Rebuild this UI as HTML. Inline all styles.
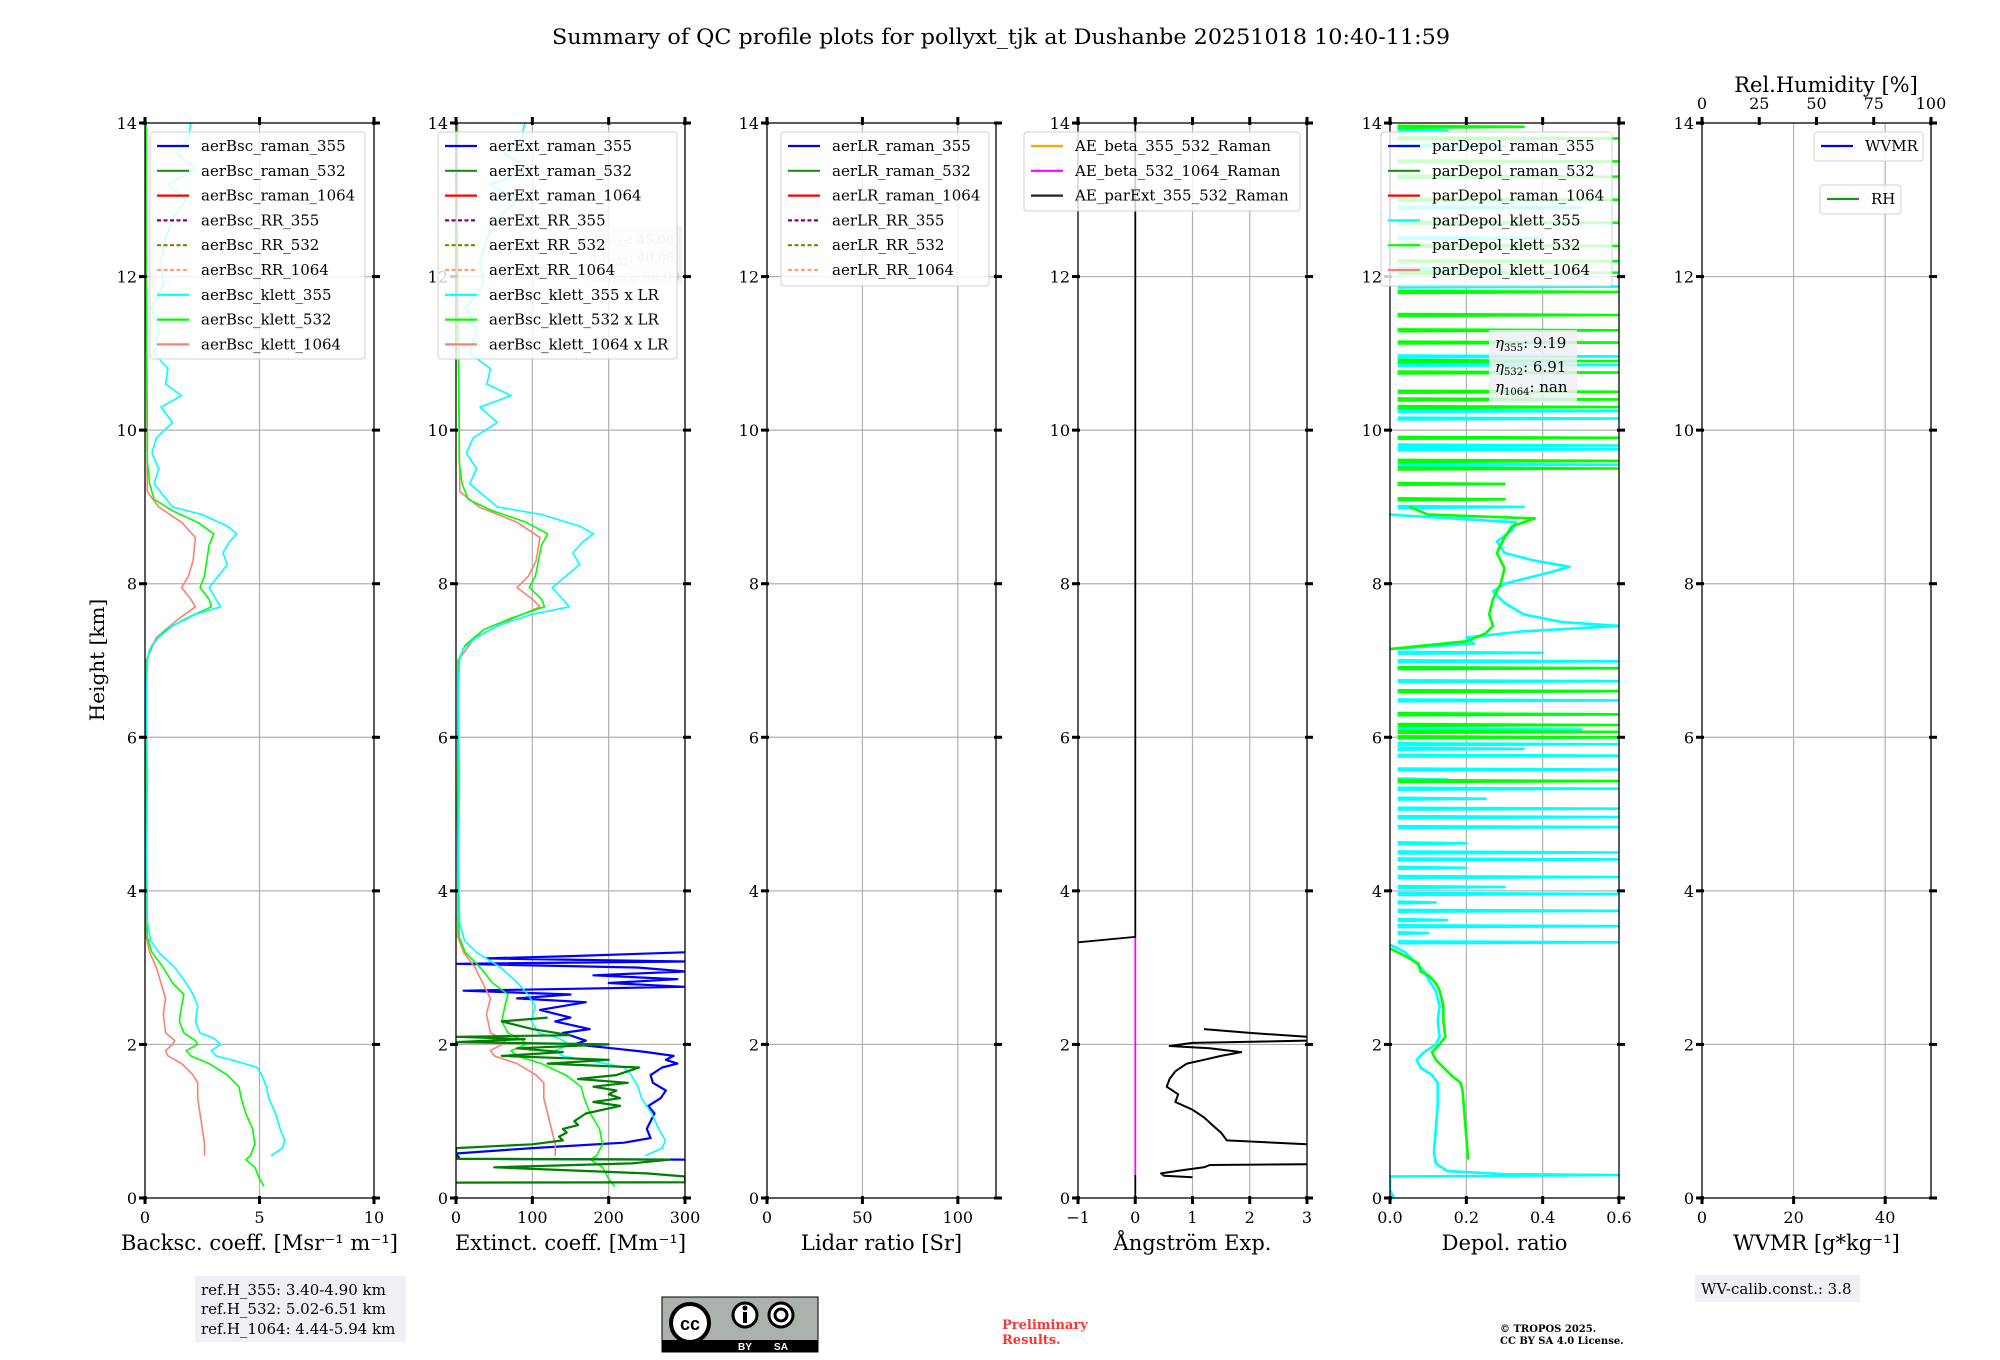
<!DOCTYPE html>
<html><head><meta charset="utf-8"><style>
html,body{margin:0;padding:0;background:#fff;}
svg{display:block;font-family:"DejaVu Serif","Liberation Serif",serif;}
</style></head><body>
<svg id="fig" width="2000" height="1360" viewBox="0 0 2000 1360" xmlns="http://www.w3.org/2000/svg">
<rect width="2000" height="1360" fill="#fff"/>
<text x="1001" y="44" font-size="21" text-anchor="middle" textLength="898" lengthAdjust="spacingAndGlyphs">Summary of QC profile plots for pollyxt_tjk at Dushanbe 20251018 10:40-11:59</text>
<text transform="translate(104,660) rotate(-90)" font-size="20" text-anchor="middle">Height [km]</text>
<g id="plots"></g>
<g>
<rect x="195" y="1276" width="211" height="66" fill="#eef0f5"/>
<text x="201" y="1295" font-size="15">ref.H_355: 3.40-4.90 km</text>
<text x="201" y="1314" font-size="15">ref.H_532: 5.02-6.51 km</text>
<text x="201" y="1334" font-size="15">ref.H_1064: 4.44-5.94 km</text>
</g>
<g>
<rect x="662" y="1297" width="156" height="55" fill="#aab2ab" stroke="#000" stroke-width="1"/>
<rect x="662" y="1340" width="156" height="12" fill="#000"/>
<circle cx="690" cy="1323" r="19" fill="#fff" stroke="#000" stroke-width="4"/>
<text x="690" y="1330" font-size="18" font-weight="bold" text-anchor="middle" font-family="Liberation Sans,sans-serif">cc</text>
<circle cx="745" cy="1315" r="12" fill="#fff" stroke="#000" stroke-width="3"/>
<rect x="743" y="1312" width="4" height="11" fill="#000"/><circle cx="745" cy="1308" r="2.5" fill="#000"/>
<circle cx="781" cy="1315" r="12" fill="#fff" stroke="#000" stroke-width="3"/>
<circle cx="781" cy="1315" r="6" fill="none" stroke="#000" stroke-width="3"/>
<text x="745" y="1350" font-size="10" fill="#fff" text-anchor="middle" font-family="Liberation Sans,sans-serif" font-weight="bold">BY</text>
<text x="781" y="1350" font-size="10" fill="#fff" text-anchor="middle" font-family="Liberation Sans,sans-serif" font-weight="bold">SA</text>
</g>
<g fill="#ff3333" font-size="13" font-weight="bold">
<text x="1002" y="1329">Preliminary</text><text x="1002" y="1344">Results.</text>
</g>
<g font-size="10" font-weight="bold">
<text x="1500" y="1332">© TROPOS 2025.</text><text x="1500" y="1344">CC BY SA 4.0 License.</text>
</g>
<g>
<rect x="1695" y="1275" width="165" height="27" fill="#eef0f5"/>
<text x="1701" y="1294" font-size="15">WV-calib.const.: 3.8</text>
</g>
</svg>
<script>
// ---------- data ----------
const BSC_KLETT_355 = [[0.55,5.5],[0.65,6.0],[0.75,6.1],[0.9,5.9],[1.1,5.7],[1.3,5.4],[1.45,5.3],[1.6,5.1],[1.7,4.9],[1.78,4.0],[1.85,3.1],[1.92,2.9],[2.0,3.3],[2.08,3.0],[2.15,2.4],[2.3,2.2],[2.5,2.3],[2.65,2.1],[2.8,1.8],[3.0,1.3],[3.2,0.6],[3.35,0.25],[3.6,0.1],[4.5,0.08],[5.5,0.1],[6.5,0.07],[7.0,0.1],[7.15,0.2],[7.3,0.6],[7.45,1.2],[7.6,2.2],[7.7,3.3],[7.8,3.1],[7.95,2.8],[8.1,3.2],[8.25,3.6],[8.4,3.4],[8.55,3.7],[8.65,4.0],[8.75,3.6],[8.9,2.5],[9.0,1.2],[9.15,0.8],[9.3,0.4],[9.5,0.6],[9.7,0.3],[9.9,0.5],[10.1,1.2],[10.3,0.7],[10.45,1.6],[10.6,0.9],[10.8,1.0],[11.0,0.4],[11.3,0.6],[11.6,0.3],[11.9,0.8],[12.2,0.7],[12.5,0.9],[12.8,1.3],[13.0,1.8],[13.2,1.0],[13.4,2.2],[13.6,1.4],[13.8,1.9],[14.0,2.0]];
const BSC_KLETT_532 = [[0.15,5.2],[0.25,5.0],[0.4,4.8],[0.5,4.4],[0.55,4.6],[0.7,4.8],[0.9,4.7],[1.1,4.4],[1.3,4.2],[1.45,4.1],[1.6,3.6],[1.75,2.8],[1.85,2.0],[1.92,1.8],[2.0,2.3],[2.05,2.2],[2.15,1.7],[2.3,1.5],[2.5,1.6],[2.65,1.7],[2.8,1.2],[3.0,0.8],[3.2,0.3],[3.4,0.1],[5.0,0.05],[7.0,0.08],[7.2,0.3],[7.4,0.9],[7.55,1.8],[7.7,2.9],[7.8,2.8],[7.95,2.4],[8.1,2.6],[8.3,2.7],[8.5,2.8],[8.65,3.0],[8.8,2.3],[8.95,1.2],[9.1,0.4],[9.3,0.2],[9.6,0.1],[10.0,0.1],[12.0,0.05],[14.0,0.05]];
const BSC_KLETT_1064 = [[0.55,2.6],[0.7,2.6],[0.9,2.5],[1.1,2.4],[1.3,2.3],[1.5,2.3],[1.6,2.1],[1.75,1.6],[1.85,1.0],[1.92,0.9],[2.0,1.2],[2.05,1.3],[2.15,0.9],[2.4,0.8],[2.6,0.9],[2.8,0.7],[3.0,0.5],[3.2,0.2],[3.4,0.05],[7.0,0.05],[7.3,0.5],[7.55,1.5],[7.7,2.2],[7.8,2.0],[7.95,1.6],[8.1,1.9],[8.3,2.1],[8.6,2.2],[8.8,1.6],[9.0,0.6],[9.2,0.1],[14.0,0.02]];
const LR_355 = 45, LR_532 = 40, LR_1064 = 50;
const EXT_RAMAN_355 = [[0.5,300],[0.51,5],[0.58,0],[0.65,100],[0.72,220],[0.78,255],[0.9,250],[1.0,255],[1.1,260],[1.2,252],[1.3,268],[1.4,275],[1.5,258],[1.6,255],[1.7,270],[1.75,290],[1.8,275],[1.85,285],[1.9,250],[1.95,205],[2.0,155],[2.05,170],[2.15,140],[2.2,175],[2.3,130],[2.35,150],[2.45,110],[2.55,170],[2.6,80],[2.65,150],[2.7,10],[2.75,300],[2.8,200],[2.85,290],[2.9,180],[2.95,300],[3.0,240],[3.05,0],[3.08,300],[3.12,40],[3.15,150],[3.2,300]];
const EXT_RAMAN_532 = [[0.2,0],[0.205,300],[0.28,300],[0.32,250],[0.4,50],[0.45,230],[0.5,280],[0.51,0],[0.65,0],[0.7,100],[0.75,140],[0.8,135],[0.85,145],[0.9,140],[0.95,160],[1.0,155],[1.1,170],[1.2,215],[1.25,180],[1.3,215],[1.35,200],[1.4,210],[1.45,180],[1.5,225],[1.55,160],[1.6,210],[1.7,240],[1.75,120],[1.8,200],[1.85,60],[1.9,140],[1.95,80],[2.0,200],[2.03,0],[2.07,90],[2.1,0],[2.12,150],[2.2,100],[2.3,60],[2.35,120]];
const AE_PAREXT = [[0.27,1.0],[0.29,0.5],[0.32,0.45],[0.36,0.8],[0.4,1.2],[0.43,1.3],[0.44,3.0],null,[0.7,3.0],[0.75,1.6],[0.85,1.5],[0.95,1.35],[1.05,1.2],[1.15,1.0],[1.25,0.7],[1.35,0.75],[1.45,0.55],[1.55,0.6],[1.65,0.7],[1.75,0.9],[1.8,1.2],[1.85,1.5],[1.9,1.85],[1.95,1.3],[1.98,0.6],[2.02,1.0],[2.05,3.0],null,[2.1,3.0],[2.15,2.0],[2.2,1.2]];
const AE_PAREXT_UPPER = [[3.33,-1],[3.4,0],[14,0]];
const AE_BETA_532_1064 = [[0.3,0],[3.4,0]];
const AE_BETA_355_532 = [[0,0],[0.3,0]];
const DEP_KLETT_355 = [[0,0.01],[0.1,0.0],[0.28,0.0],[0.3,0.6],[0.31,0.3],[0.35,0.15],[0.45,0.12],[0.6,0.115],[0.9,0.12],[1.2,0.125],[1.5,0.125],[1.6,0.11],[1.7,0.08],[1.8,0.07],[1.9,0.09],[2.0,0.12],[2.1,0.13],[2.3,0.125],[2.5,0.13],[2.7,0.12],[2.85,0.1],[2.95,0.09],[3.05,0.07],[3.2,0.04],[3.3,0.0],null,[7.15,0.0],[7.22,0.22],[7.3,0.2],[7.38,0.35],[7.45,0.6],[7.5,0.45],[7.6,0.35],[7.75,0.3],[7.9,0.27],[8.0,0.3],[8.05,0.34],[8.15,0.42],[8.22,0.47],[8.3,0.38],[8.4,0.3],[8.55,0.28],[8.7,0.32],[8.8,0.33],[8.9,0.0]];
const DEP_KLETT_532 = [[0.5,0.205],[0.8,0.2],[1.1,0.195],[1.4,0.19],[1.5,0.185],[1.6,0.16],[1.7,0.14],[1.8,0.12],[1.9,0.11],[2.0,0.13],[2.1,0.145],[2.3,0.14],[2.5,0.14],[2.7,0.13],[2.8,0.12],[2.9,0.1],[2.95,0.08],[3.05,0.075],[3.15,0.04],[3.25,0.0],null,[7.15,0.0],[7.25,0.2],[7.35,0.25],[7.45,0.27],[7.6,0.26],[7.8,0.27],[8.0,0.29],[8.2,0.3],[8.4,0.28],[8.6,0.3],[8.75,0.32],[8.85,0.38],[8.9,0.1],[9.0,0.05]];
const DEP_355_SPIKES = [[3.33,0.6],[3.45,0.1],[3.54,0.6],[3.62,0.15],[3.74,0.6],[3.85,0.12],[3.96,0.6],[4.05,0.3],[4.18,0.6],[4.3,0.2],[4.41,0.6],[4.5,0.6],[4.62,0.2],[4.83,0.6],[4.96,0.6],[5.07,0.6],[5.2,0.25],[5.33,0.6],[5.45,0.15],[5.58,0.6],[5.76,0.6],[5.85,0.35],[5.91,0.6],[6.0,0.6],[6.1,0.5],[6.3,0.6],[6.48,0.6],[6.6,0.6],[6.73,0.6],[6.9,0.6],[6.99,0.6],[7.1,0.4],[9.0,0.35],[9.55,0.6],[9.75,0.6],[9.8,0.6],[10.15,0.6],[10.25,0.6],[10.85,0.6],[10.96,0.6],[11.87,0.6],[12.1,0.3],[12.5,0.4],[12.9,0.5],[13.3,0.3],[13.7,0.3],[13.9,0.15]];
const DEP_532_SPIKES = [[5.43,0.6],[6.0,0.6],[6.07,0.6],[6.16,0.6],[6.3,0.6],[6.6,0.6],[6.9,0.6],[9.1,0.3],[9.3,0.3],[9.5,0.6],[9.6,0.6],[9.9,0.6],[10.3,0.6],[10.4,0.6],[10.5,0.6],[10.75,0.6],[10.9,0.6],[11.14,0.6],[11.3,0.6],[11.5,0.6],[11.8,0.6],[12.05,0.6],[12.2,0.6],[12.4,0.6],[12.7,0.6],[13.0,0.6],[13.3,0.6],[13.5,0.6],[13.8,0.6],[13.95,0.35]];
const Y_TICKS = [0,2,4,6,8,10,12,14];
const BSC_TICKS = [0,5,10], EXT_TICKS = [0,100,200,300], LR_TICKS = [0,50,100], AE_TICKS = [-1,0,1,2,3], DEP_TICKS = [0,0.2,0.4,0.6], WV_TICKS = [0,20,40], RH_TICKS = [0,25,50,75,100];
const DEP_TICK_LABELS = ['0.0','0.2','0.4','0.6'];

// ---------- layout ----------
const NS='http://www.w3.org/2000/svg';
const TOP=123, BOT=1198, PW=229, HMAX=14;
const sy = h => BOT - h/HMAX*(BOT-TOP);
const root=document.getElementById('plots');
function el(tag, attrs, parent){const e=document.createElementNS(NS,tag);for(const k in attrs)e.setAttribute(k,attrs[k]);(parent||root).appendChild(e);return e;}
function pathD(pts,sx){let d='',pen=false;for(const p of pts){if(!p){pen=false;continue;}d+=(pen?'L':'M')+sx(p[1]).toFixed(1)+','+sy(p[0]).toFixed(1);pen=true;}return d;}
function spikes(list,base){const out=[];for(const s of list){out.push(null,[s[0]-0.012,base],[s[0],s[1]],[s[0]+0.012,base]);}return out;}

const PANELS=[
 {id:'backscatter',left:145,xmin:0,xmax:10,ticks:BSC_TICKS,label:'Backsc. coeff. [Msr⁻¹ m⁻¹]'},
 {id:'extinction',left:456,xmin:0,xmax:300,ticks:EXT_TICKS,label:'Extinct. coeff. [Mm⁻¹]'},
 {id:'lidar-ratio',left:767,xmin:0,xmax:120,ticks:LR_TICKS,label:'Lidar ratio [Sr]'},
 {id:'angstrom',left:1078,xmin:-1,xmax:3,ticks:AE_TICKS,label:'Ångström Exp.'},
 {id:'depol',left:1390,xmin:0,xmax:0.6,ticks:DEP_TICKS,labels:DEP_TICK_LABELS,label:'Depol. ratio'},
 {id:'wvmr',left:1702,xmin:0,xmax:50,ticks:WV_TICKS,label:'WVMR [g*kg⁻¹]'}
];

PANELS.forEach((p,i)=>{
  const g=el('g',{});
  
  
  p.g=g;
  p.sx=v=>p.left+(v-p.xmin)/(p.xmax-p.xmin)*PW;
  const R=p.left+PW;
  p.ticks.forEach(t=>{const x=p.sx(t);if(x>p.left+1&&x<R-1){const gl=el('line',{x1:x,x2:x,y1:TOP,y2:BOT,stroke:'#b0b0b0','stroke-width':1.2},g);}});
  Y_TICKS.forEach(t=>{const y=sy(t);if(y<BOT-1&&y>TOP+1){const gl=el('line',{x1:p.left,x2:R,y1:y,y2:y,stroke:'#b0b0b0','stroke-width':1.2},g);}});
  p.series=el('g',{},g);
  el('rect',{x:p.left,y:TOP,width:PW,height:BOT-TOP,fill:'none',stroke:'#000','stroke-width':1.3},g);
  Y_TICKS.forEach(t=>{const y=sy(t);
    el('line',{x1:p.left-6,x2:p.left+2,y1:y,y2:y,stroke:'#000','stroke-width':3},g);
    el('line',{x1:R-2,x2:R+6,y1:y,y2:y,stroke:'#000','stroke-width':3},g);
    const tl=el('text',{x:p.left-8,y:y+6,'font-size':16,'text-anchor':'end'},g);tl.textContent=t;
    
  });
  p.ticks.forEach((t,k)=>{const x=p.sx(t);
    el('line',{x1:x,x2:x,y1:BOT-2,y2:BOT+6,stroke:'#000','stroke-width':3},g);
    if(p.id!=='wvmr') el('line',{x1:x,x2:x,y1:TOP-6,y2:TOP+2,stroke:'#000','stroke-width':3},g);
    const tl=el('text',{x:x,y:BOT+25,'font-size':16,'text-anchor':'middle'},g);
    tl.textContent=p.labels?p.labels[k]:(t<0?'−'+(-t):t);
    
  });
  const xl=el('text',{x:p.left+PW/2,y:BOT+52,'font-size':21,'text-anchor':'middle'},g);
  xl.textContent=p.label;
  
});

function series(p,pts,color,w,name,dash){
  const e=el('path',{d:pathD(pts,p.sx),fill:'none',stroke:color,'stroke-width':w,'stroke-linejoin':'round'},p.series);
  if(dash)e.setAttribute('stroke-dasharray',dash);
  
  
  return e;
}
function clip(p){const id='clip-'+p.id;const c=el('clipPath',{id:id},p.g);el('rect',{x:p.left,y:TOP,width:PW,height:BOT-TOP},c);p.series.setAttribute('clip-path','url(#'+id+')');}
PANELS.forEach(clip);

const [P1,P2,P3,P4,P5,P6]=PANELS;
series(P1,BSC_KLETT_1064,'#fa8072',1.6,'bsc-klett-1064-line');
series(P1,BSC_KLETT_532,'#00ff00',1.6,'bsc-klett-532-line');
series(P1,BSC_KLETT_355,'#00ffff',1.6,'bsc-klett-355-line');
const scale=(arr,f)=>arr.map(q=>q?[q[0],q[1]*f]:null);
series(P2,EXT_RAMAN_355,'#0000ff',2.2,'ext-raman-355-line');
series(P2,scale(BSC_KLETT_1064,LR_1064),'#fa8072',1.6,'ext-klett-1064-line');
series(P2,scale(BSC_KLETT_532,LR_532),'#00ff00',1.6,'ext-klett-532-line');
series(P2,scale(BSC_KLETT_355,LR_355),'#00ffff',1.6,'ext-klett-355-line');
series(P2,EXT_RAMAN_532,'#008000',2.2,'ext-raman-532-line');
series(P4,AE_BETA_355_532,'#000',1.8,'ae-beta-355-532-line');
series(P4,AE_BETA_532_1064,'#ff00ff',1.8,'ae-beta-532-1064-line');
series(P4,AE_PAREXT_UPPER,'#000',1.8,'ae-parext-upper-line');
series(P4,AE_PAREXT,'#000',2,'ae-parext-355-532-line');
series(P5,DEP_KLETT_355.concat(spikes(DEP_355_SPIKES,0.02)),'#00ffff',2.6,'depol-klett-355-line');
series(P5,DEP_KLETT_532.concat(spikes(DEP_532_SPIKES,0.02)),'#00ff00',2.6,'depol-klett-532-line');

const rhx=v=>P6.left+v/100*PW;
RH_TICKS.forEach(t=>{const x=rhx(t);
  el('line',{x1:x,x2:x,y1:TOP-6,y2:TOP+2,stroke:'#000','stroke-width':3},P6.g);
  const tl=el('text',{x:x,y:TOP-14,'font-size':16,'text-anchor':'middle'},P6.g);tl.textContent=t;
  
});
const rht=el('text',{x:1826,y:92,'font-size':21,'text-anchor':'middle'},P6.g);rht.textContent='Rel.Humidity [%]';


function legend(x,y,w,h,entries,name,dy){
  const g=el('g',{});
  
  
  el('rect',{x:x,y:y,width:w,height:h,rx:3,fill:'rgba(255,255,255,0.8)',stroke:'#d0d0d0','stroke-width':1},g);
  entries.forEach((e,i)=>{const yy=y+14+i*dy;
    const ln=el('line',{x1:x+7,x2:x+39,y1:yy,y2:yy,stroke:e[1],'stroke-width':2.2},g);
    if(e[2])ln.setAttribute('stroke-dasharray','4,2.5');
    const t=el('text',{x:x+51,y:yy+5,'font-size':15},g);t.textContent=e[0];
    
  });
}
(function(){const g=el('g',{});
 el('rect',{x:590,y:226,width:92,height:58,fill:'rgba(230,230,235,0.5)'},g);
 [['355','45.00',244],['532','40.00',262],['1064','50.00',281]].forEach(r=>{const t=el('text',{x:593,y:r[2],'font-size':13,fill:'#c8c8c8'},g);t.innerHTML='LR<tspan font-size="9" dy="3">'+r[0]+'</tspan><tspan dy="-3">: '+r[1]+'</tspan>';});
})();
legend(150,132,215,227,[['aerBsc_raman_355','#0000ff'],['aerBsc_raman_532','#228b22'],['aerBsc_raman_1064','#ff0000'],['aerBsc_RR_355','#800080',1],['aerBsc_RR_532','#808000',1],['aerBsc_RR_1064','#ffa07a',1],['aerBsc_klett_355','#00ffff'],['aerBsc_klett_532','#00ff00'],['aerBsc_klett_1064','#fa8072']],'backscatter-legend',24.8);
legend(438,132,239,227,[['aerExt_raman_355','#0000ff'],['aerExt_raman_532','#228b22'],['aerExt_raman_1064','#ff0000'],['aerExt_RR_355','#800080',1],['aerExt_RR_532','#808000',1],['aerExt_RR_1064','#ffa07a',1],['aerBsc_klett_355 x LR','#00ffff'],['aerBsc_klett_532 x LR','#00ff00'],['aerBsc_klett_1064 x LR','#fa8072']],'extinction-legend',24.8);
legend(781,132,208,154,[['aerLR_raman_355','#0000ff'],['aerLR_raman_532','#228b22'],['aerLR_raman_1064','#ff0000'],['aerLR_RR_355','#800080',1],['aerLR_RR_532','#808000',1],['aerLR_RR_1064','#ffa07a',1]],'lidar-ratio-legend',24.8);
legend(1024,132,276,79,[['AE_beta_355_532_Raman','#ffa500'],['AE_beta_532_1064_Raman','#ff00ff'],['AE_parExt_355_532_Raman','#222']],'angstrom-legend',24.8);
legend(1381,132,231,154,[['parDepol_raman_355','#0000ff'],['parDepol_raman_532','#228b22'],['parDepol_raman_1064','#ff0000'],['parDepol_klett_355','#00ffff'],['parDepol_klett_532','#00ff00'],['parDepol_klett_1064','#fa8072']],'depol-legend',24.8);
legend(1814,132,109,29,[['WVMR','#0000ff']],'wvmr-legend',24.8);
legend(1820,185,81,29,[['RH','#228b22']],'rh-legend',24.8);
(function(){const g=el('g',{});
 el('rect',{x:1489,y:330,width:88,height:73,fill:'rgba(238,240,245,0.85)'},g);
 [['355','9.19',348],['532','6.91',372],['1064','nan',392]].forEach(r=>{const t=el('text',{x:1495,y:r[2],'font-size':15},g);t.innerHTML='<tspan font-style="italic">η</tspan><tspan font-size="10" dy="3">'+r[0]+'</tspan><tspan dy="-3">: '+r[1]+'</tspan>';});
})();
</script>
</body></html>
